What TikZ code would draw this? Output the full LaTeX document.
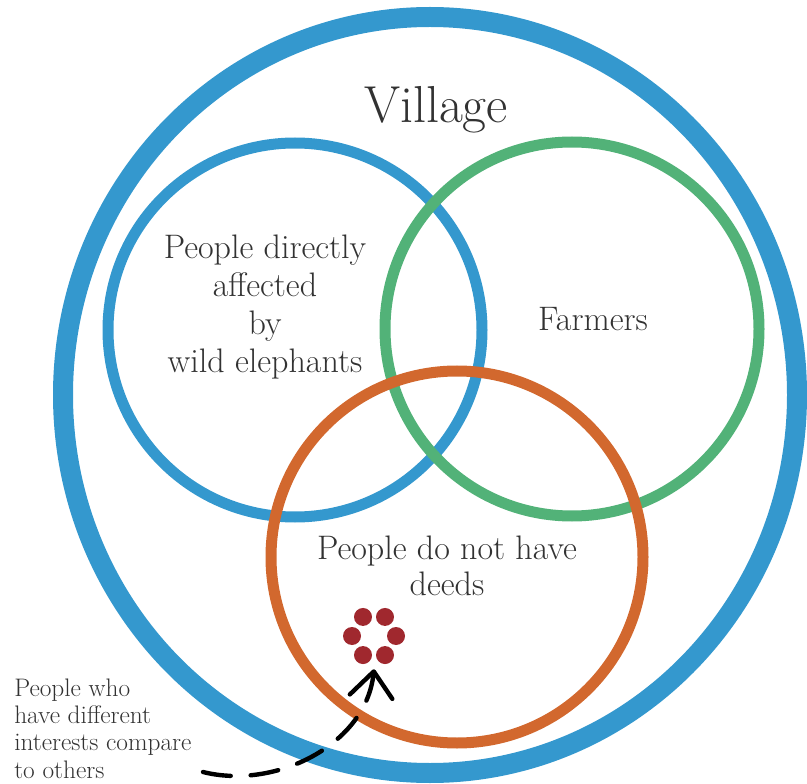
\documentclass[tikz,border=0pt]{standalone}
\usepackage{fontspec}
\usepackage{tikz}
\usetikzlibrary{calc,positioning,arrows.meta}
\definecolor{VillageBlue}{RGB}{52,152,206}
\definecolor{FarmGreen}{RGB}{82,178,120}
\definecolor{DeedOrange}{RGB}{210,104,46}
\definecolor{GroupRed}{RGB}{160,40,46}
\definecolor{LabelInk}{RGB}{50,50,50}

\begin{document}
\begin{tikzpicture}[x=0.75pt, y=-0.75pt,
  ring/.style={line width=8.25pt},
  tag/.style={text=LabelInk, align=center, inner sep=0pt, font=\fontsize{25.5}{28.5}\selectfont}]
  \useasboundingbox (0,0) rectangle (807,784);
  % village boundary and the three groups
  \draw[VillageBlue, line width=15pt] (430,395) ellipse [x radius=367, y radius=378];
  \draw[ring, VillageBlue] (295,330) circle (187);
  \draw[ring, FarmGreen] (572,329) circle (187);
  \draw[ring, DeedOrange] (457,557) circle (186);
  % labels
  \node[tag, anchor=base, font=\fontsize{39}{42}\selectfont] (village) at (436,123) {Village};
  \node[tag] (affected) at (265,307) {People directly\\affected\\by\\wild elephants};
  \node[tag, anchor=base] (farmers) at (593,330) {Farmers};
  \node[tag, font=\fontsize{25.5}{27.5}\selectfont] (deeds) at (447,566) {People do not have\\deeds};
  \node[tag, align=left, anchor=north west, font=\fontsize{19}{20.3}\selectfont] (who) at (14,679) {People who\\have different\\interests compare\\to others};
  % small group of people
  \node[circle, minimum size=49.5pt, inner sep=0pt] (cluster) at (374,636) {};
  \foreach \a in {0,60,...,300}
    \fill[GroupRed] (cluster.center) ++(\a:22) circle (9);
  \coordinate (tail) at (203,772);
  \draw[line width=3.3pt, line cap=round, dash pattern=on 21pt off 15pt,
    -{Straight Barb[length=19pt, width=32pt, round]}]
    (tail) .. controls (275,790) and (366,745) .. (cluster.south);
\end{tikzpicture}
\end{document}
